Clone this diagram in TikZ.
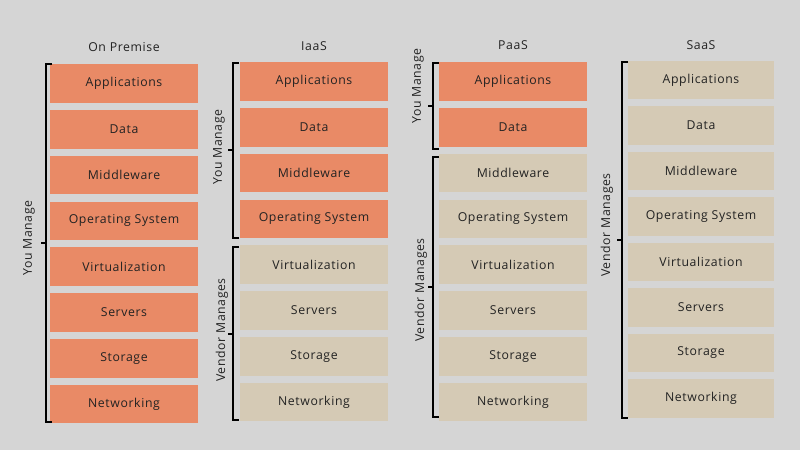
\documentclass[tikz,border=0pt]{standalone}
\usepackage{fontspec}
\setmainfont{Open Sans}[LetterSpace=5]
\definecolor{bgray}{HTML}{D5D5D5}
\definecolor{mine}{HTML}{E98A66}
\definecolor{theirs}{HTML}{D5CAB5}
\definecolor{ink}{HTML}{222222}

\begin{document}
\begin{tikzpicture}[x=0.75pt,y=-0.75pt,
  layer/.style={minimum width=110.5pt,minimum height=29pt,inner sep=0pt,font=\fontsize{9.2}{10}\selectfont,text=ink},
  own/.style={layer,fill=mine},
  vend/.style={layer,fill=theirs},
  title/.style={font=\fontsize{9.2}{10}\selectfont,text=ink},
  side/.style={font=\fontsize{9.2}{10}\selectfont,text=ink,rotate=90},
  brk/.style={line width=1.9pt,black}]
\fill[bgray] (0,0) rectangle (800,450);
\useasboundingbox (0,0) rectangle (800,450);

% column titles
\node[title] (tOP) at (124,47) {On Premise};
\node[title] (tIA) at (314,46) {IaaS};
\node[title] (tPA) at (513,45) {PaaS};
\node[title] (tSA) at (701,45) {SaaS};

% On Premise
\foreach \t [count=\i] in {Applications,Data,Middleware,Operating System,Virtualization,Servers,Storage,Networking}
  \node[own] (op\i) at (124,{83.5+(\i-1)*45.8}) {\t};

% IaaS
\foreach \t [count=\i] in {Applications,Data,Middleware,Operating System}
  \node[own] (ia\i) at (314,{81.5+(\i-1)*45.8}) {\t};
\foreach \t [count=\i from 5] in {Virtualization,Servers,Storage,Networking}
  \node[vend] (ia\i) at (314,{81.5+(\i-1)*45.8}) {\t};

% PaaS
\foreach \t [count=\i] in {Applications,Data}
  \node[own] (pa\i) at (513,{81.5+(\i-1)*45.8}) {\t};
\foreach \t [count=\i from 3] in {Middleware,Operating System,Virtualization,Servers,Storage,Networking}
  \node[vend] (pa\i) at (513,{81.5+(\i-1)*45.8}) {\t};

% SaaS
\foreach \t [count=\i] in {Applications,Data,Middleware,Operating System,Virtualization,Servers,Storage,Networking}
  \node[vend,minimum width=109.5pt] (sa\i) at (701,{80+(\i-1)*45.5}) {\t};

% brackets
\draw[brk] (52,64) -- (46,64) -- (46,422) -- (52,422);
\draw[brk] (46,243) -- (41,243);
\node[side] (yOP) at (29,238) {You Manage};

\draw[brk] (239,63) -- (233,63) -- (233,238) -- (239,238);
\draw[brk] (233,150) -- (228,150);
\node[side] (yIA) at (219,147) {You Manage};
\draw[brk] (239,247) -- (233,247) -- (233,420) -- (239,420);
\draw[brk] (233,334) -- (228,334);
\node[side] (vIA) at (222,330) {Vendor Manages};

\draw[brk] (439,63) -- (433,63) -- (433,149) -- (439,149);
\draw[brk] (433,106) -- (428,106);
\node[side] (yPA) at (418,86) {You Manage};
\draw[brk] (439,157) -- (433,157) -- (433,417) -- (439,417);
\draw[brk] (433,287) -- (428,287);
\node[side] (vPA) at (421,290) {Vendor Manages};

\draw[brk] (628,62) -- (622,62) -- (622,418) -- (628,418);
\draw[brk] (622,240) -- (617,240);
\node[side] (vSA) at (607,225) {Vendor Manages};
\end{tikzpicture}
\end{document}
